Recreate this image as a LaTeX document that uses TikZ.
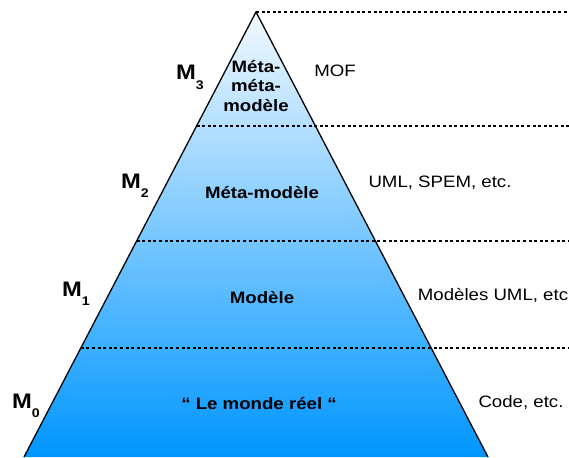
\documentclass[tikz,border=0pt]{standalone}
\usepackage{fontspec}
\setmainfont[FakeStretch=1.13]{Liberation Sans}
\begin{document}
\begin{tikzpicture}[x=1pt,y=-1pt,
  lvl/.style={font=\fontsize{16.5}{19.5}\selectfont\bfseries, align=center, inner sep=0pt},
  tool/.style={font=\fontsize{16.5}{19.5}\selectfont, inner sep=0pt},
  mlabel/.style={font=\fontsize{21}{23}\selectfont\bfseries, inner sep=0pt},
  sep/.style={line width=1.5pt, dash pattern=on 3pt off 2.6pt}
]
\useasboundingbox (0,0) rectangle (569,457);

% corners of the pyramid
\coordinate (apex) at (256,12);
\coordinate (bl) at (24,457);
\coordinate (br) at (488,457);

% graded fill and outline
\shade[top color={rgb,255:red,242;green,249;blue,255}, bottom color={rgb,255:red,0;green,150;blue,255}]
  (apex) -- (bl) -- (br) -- cycle;
\draw[line width=1.3pt, line join=miter] (bl) -- (apex) -- (br);

% level separators
\coordinate (e0) at (569,12);
\coordinate (l1) at (196.6,126);   \coordinate (e1) at (569,126);
\coordinate (l2) at (136.6,241);   \coordinate (e2) at (569,241);
\coordinate (l3) at (80.8,348);    \coordinate (e3) at (569,348);
\draw[sep] (apex) -- (e0);
\draw[sep] (l1) -- (e1);
\draw[sep] (l2) -- (e2);
\draw[sep] (l3) -- (e3);

% level names
\node[lvl] (n3) at (256,86) {Méta-\\méta-\\modèle};
\node[lvl] (n2) at (262,193) {Méta-modèle};
\node[lvl] (n1) at (262,298) {Modèle};
\node[lvl] (n0) at (259,404) {“ Le monde réel “};

% examples on the right
\node[tool] (t3) at (335,71) {MOF};
\node[tool] (t2) at (440,183) {UML, SPEM, etc.};
\node[tool] (t1) at (493,295) {Modèles UML, etc};
\node[tool] (t0) at (521,403) {Code, etc.};

% level indices
\node[mlabel, anchor=base west] (m3) at (176,80) {M\raisebox{-0.45em}{\fontsize{12.5}{12.5}\selectfont 3}};
\node[mlabel, anchor=base west] (m2) at (121,188) {M\raisebox{-0.45em}{\fontsize{12.5}{12.5}\selectfont 2}};
\node[mlabel, anchor=base west] (m1) at (62,296) {M\raisebox{-0.45em}{\fontsize{12.5}{12.5}\selectfont 1}};
\node[mlabel, anchor=base west] (m0) at (12,408) {M\raisebox{-0.45em}{\fontsize{12.5}{12.5}\selectfont 0}};
\end{tikzpicture}
\end{document}
